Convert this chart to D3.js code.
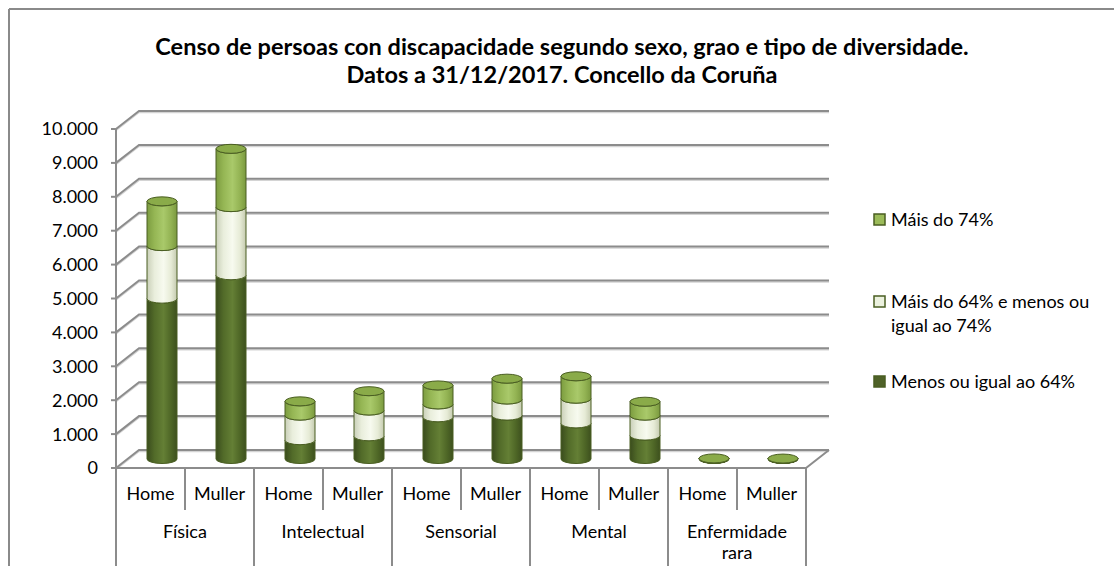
<!DOCTYPE html>
<html>
<head>
<meta charset="utf-8">
<script src="https://cdn.jsdelivr.net/npm/d3@7"></script>
<style>
  body { margin: 0; background: #fff; }
  text { font-family: Lato, "Open Sans", sans-serif; fill: #000; }
</style>
</head>
<body>
<script>
    // chart data
    var groups = ["Física", "Intelectual", "Sensorial", "Mental", "Enfermidade rara"];
    var sexes = ["Home", "Muller"];
    var seriesNames = ["Menos ou igual ao 64%", "Máis do 64% e menos ou igual ao 74%", "Máis do 74%"];
    var menos64 = [4730, 5420, 555, 670, 1230, 1280, 1050, 690, 8, 6];
    var entre64e74 = [1550, 2010, 725, 760, 380, 475, 730, 590, 4, 3];
    var mais74 = [1320, 1720, 420, 570, 560, 615, 660, 410, 5, 4];
    var yTicks = [0, 1000, 2000, 3000, 4000, 5000, 6000, 7000, 8000, 9000, 10000];

    var w = 1114, h = 566;
    var dx = 23, dy = -18;   // depth of the 3d box

    var svg = d3.select("body").append("svg")
            .attr("width", w)
            .attr("height", h);

    var defs = svg.append("defs");

    // cylinder shading, one gradient per series
    var shades = [
        ["#3a4c1d", "#526b29", "#647f35", "#4e6626", "#3d501e"],
        ["#c9cfb8", "#e9eedc", "#f7faef", "#e6ebd6", "#c4caaf"],
        ["#7c9c40", "#95b654", "#a9c96a", "#93b353", "#7a993f"]
    ];
    shades.forEach(function (s, i) {
        var g = defs.append("linearGradient").attr("id", "cyl" + i)
                .attr("x1", "0%").attr("x2", "100%").attr("y1", "0%").attr("y2", "0%");
        [0, 0.25, 0.55, 0.8, 1].forEach(function (o, j) {
            g.append("stop").attr("offset", o).attr("stop-color", s[j]);
        });
    });

    // outer chart border (top + left only are visible)
    svg.append("line").attr("x1", 9).attr("x2", w).attr("y1", 9).attr("y2", 9)
            .attr("stroke", "#8a8a8a").attr("stroke-width", 2);
    svg.append("line").attr("x1", 9).attr("x2", 9).attr("y1", 9).attr("y2", h)
            .attr("stroke", "#8a8a8a").attr("stroke-width", 2);

    // title
    svg.append("text").attr("x", 562).attr("y", 55).attr("text-anchor", "middle")
            .style("font-size", "23.5px").style("font-weight", "bold")
            .text("Censo de persoas con discapacidade segundo sexo, grao e tipo de diversidade.");
    svg.append("text").attr("x", 562).attr("y", 83).attr("text-anchor", "middle")
            .style("font-size", "23.5px").style("font-weight", "bold")
            .text("Datos a 31/12/2017. Concello da Coruña");

    var x = d3.scaleBand().domain(d3.range(10)).range([116, 806]).padding(0);
    var y = d3.scaleLinear().domain([0, 10000]).range([468, 129]);

    // gridlines: left wall diagonal + back wall
    var grid = svg.append("g");
    yTicks.forEach(function (t) {
        var yy = y(t);
        grid.append("path")
                .attr("d", "M116," + (yy + 1.5) + "L" + (116 + dx) + "," + (yy + dy + 1.5) + "L" + (806 + dx) + "," + (yy + dy + 1.5))
                .attr("fill", "none").attr("stroke", "#d4d4d4").attr("stroke-width", 1.5);
        grid.append("path")
                .attr("d", "M116," + yy + "L" + (116 + dx) + "," + (yy + dy) + "L" + (806 + dx) + "," + (yy + dy))
                .attr("fill", "none").attr("stroke", "#8c8c8c").attr("stroke-width", 2);
        grid.append("line").attr("x1", 111).attr("x2", 116).attr("y1", yy).attr("y2", yy)
                .attr("stroke", "#8c8c8c").attr("stroke-width", 2);
    });
    // floor
    svg.append("path")
            .attr("d", "M116,468L806,468L" + (806 + dx) + "," + (468 + dy))
            .attr("fill", "none").attr("stroke", "#8c8c8c").attr("stroke-width", 2);
    // value axis line
    svg.append("line").attr("x1", 116).attr("x2", 116).attr("y1", y(10000)).attr("y2", 468)
            .attr("stroke", "#8c8c8c").attr("stroke-width", 2);

    // y labels
    var fmt = function (v) { return d3.format(",")(v).replace(/,/g, "."); };
    svg.append("g").selectAll("text").data(yTicks).enter().append("text")
            .attr("x", 98).attr("y", function (d) { return y(d); })
            .attr("dy", "0.36em").attr("text-anchor", "end")
            .style("font-size", "18px")
            .text(fmt);

    // cylinders
    var r = 15, ry = 4.5;
    var series = [menos64, entre64e74, mais74];
    var bars = svg.append("g").attr("transform", "translate(" + (dx / 2) + "," + (dy / 2) + ")");
    d3.range(10).forEach(function (i) {
        var cx = x(i) + x.bandwidth() / 2;
        var base = 0;
        series.forEach(function (s, k) {
            var y0 = y(base), y1 = y(base + s[i]);
            base += s[i];
            bars.append("path")
                    .attr("d", "M" + (cx - r) + "," + y1 + "L" + (cx - r) + "," + y0 +
                            "A" + r + "," + ry + " 0 0 0 " + (cx + r) + "," + y0 +
                            "L" + (cx + r) + "," + y1 +
                            "A" + r + "," + ry + " 0 0 1 " + (cx - r) + "," + y1 + "Z")
                    .attr("fill", "url(#cyl" + k + ")")
                    .attr("stroke", "#4a5e22").attr("stroke-width", 1);
        });
        bars.append("ellipse").attr("cx", cx).attr("cy", y(base))
                .attr("rx", r).attr("ry", ry)
                .attr("fill", "#8aab49").attr("stroke", "#4a5e22").attr("stroke-width", 1);
    });

    // category axis (two levels)
    var cat = svg.append("g");
    d3.range(11).forEach(function (i) {
        var xx = 116 + i * x.bandwidth();
        cat.append("line").attr("x1", xx).attr("x2", xx).attr("y1", 468)
                .attr("y2", i % 2 === 0 ? h : 510)
                .attr("stroke", "#8c8c8c").attr("stroke-width", 2);
    });
    cat.selectAll("text.sex").data(d3.range(10)).enter().append("text")
            .attr("class", "sex")
            .attr("x", function (d) { return x(d) + x.bandwidth() / 2; })
            .attr("y", 500).attr("text-anchor", "middle")
            .style("font-size", "18px")
            .text(function (d) { return sexes[d % 2]; });
    groups.forEach(function (g, j) {
        var cx = x(j * 2) + x.bandwidth();
        var words = g === "Enfermidade rara" ? ["Enfermidade", "rara"] : [g];
        words.forEach(function (wd, k) {
            cat.append("text").attr("x", cx).attr("y", 538 + k * 21)
                    .attr("text-anchor", "middle").style("font-size", "18px").text(wd);
        });
    });

    // legend
    var legendItems = [
        {k: 2, lines: ["Máis do 74%"], y: 220},
        {k: 1, lines: ["Máis do 64% e menos ou", "igual ao 74%"], y: 302},
        {k: 0, lines: ["Menos ou igual ao 64%"], y: 382}
    ];
    var legFill = ["#4f6228", "#ebf1de", "#9bbb59"];
    var leg = svg.append("g");
    legendItems.forEach(function (it) {
        leg.append("rect").attr("x", 874).attr("y", it.y - 6).attr("width", 11).attr("height", 11)
                .attr("fill", legFill[it.k]).attr("stroke", "#4a5e22").attr("stroke-width", 1.5);
        it.lines.forEach(function (ln, j) {
            leg.append("text").attr("x", 891).attr("y", it.y + j * 24).attr("dy", "0.36em")
                    .style("font-size", "18px").text(ln);
        });
    });
</script>
</body>
</html>
